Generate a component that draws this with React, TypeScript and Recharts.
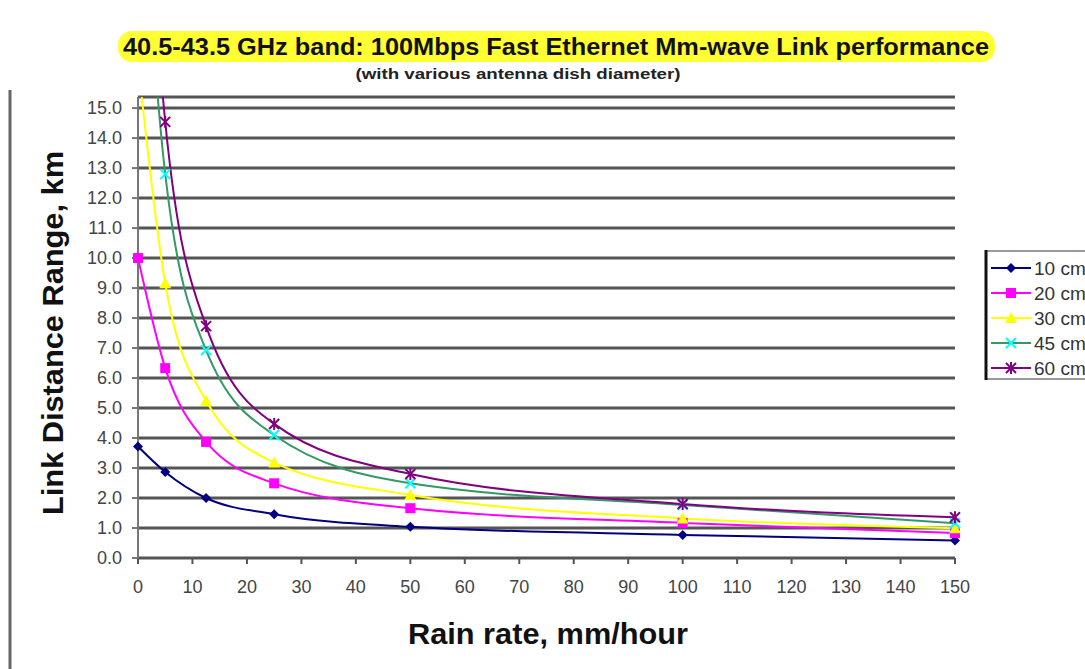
import React from "react";
import { LineChart, Line, XAxis, YAxis, CartesianGrid } from "recharts";

const rainRate = [0, 5, 12.5, 25, 50, 100, 150];
const dish10 = [3.72, 2.87, 2.0, 1.46, 1.04, 0.77, 0.58];
const dish20 = [10.0, 6.33, 3.87, 2.49, 1.66, 1.17, 0.83];
const dish30 = [16.5, 9.16, 5.24, 3.18, 2.1, 1.32, 0.99];
const dish45 = [24, 12.8, 6.93, 4.1, 2.49, 1.77, 1.16];
const dish60 = [28, 14.54, 7.73, 4.47, 2.8, 1.8, 1.36];

const xTicks = [0, 10, 20, 30, 40, 50, 60, 70, 80, 90, 100, 110, 120, 130, 140, 150];
const yTicks = [0, 1, 2, 3, 4, 5, 6, 7, 8, 9, 10, 11, 12, 13, 14, 15];

const TITLE = "40.5-43.5 GHz band: 100Mbps Fast Ethernet Mm-wave Link performance";
const SUBTITLE = "(with various antenna dish diameter)";

const FONT = "'Liberation Sans', Arial, sans-serif";
const Y_MAX = 15.37;

const series = [
  { key: "d10", name: "10 cm", values: dish10, line: "#000080", marker: "#000080", shape: "diamond" },
  { key: "d20", name: "20 cm", values: dish20, line: "#FF00FF", marker: "#FF00FF", shape: "square" },
  { key: "d30", name: "30 cm", values: dish30, line: "#FFFF00", marker: "#FFFF00", shape: "triangle" },
  { key: "d45", name: "45 cm", values: dish45, line: "#339966", marker: "#00FFFF", shape: "x" },
  { key: "d60", name: "60 cm", values: dish60, line: "#800080", marker: "#800080", shape: "star" },
];

const data = rainRate.map((r, i) => {
  const row: any = { rain: r };
  series.forEach((s) => (row[s.key] = s.values[i]));
  return row;
});

function Marker({ shape, color, cx, cy }: { shape: string; color: string; cx: number; cy: number }) {
  if (shape === "diamond")
    return <polygon points={`${cx},${cy - 5} ${cx + 5},${cy} ${cx},${cy + 5} ${cx - 5},${cy}`} fill={color} />;
  if (shape === "square") return <rect x={cx - 5} y={cy - 5} width={10} height={10} fill={color} />;
  if (shape === "triangle")
    return <polygon points={`${cx},${cy - 6} ${cx + 6},${cy + 5} ${cx - 6},${cy + 5}`} fill={color} />;
  if (shape === "x")
    return (
      <g stroke={color} strokeWidth={2}>
        <line x1={cx - 5} y1={cy - 5} x2={cx + 5} y2={cy + 5} />
        <line x1={cx - 5} y1={cy + 5} x2={cx + 5} y2={cy - 5} />
      </g>
    );
  return (
    <g stroke={color} strokeWidth={2}>
      <line x1={cx - 5} y1={cy - 5} x2={cx + 5} y2={cy + 5} />
      <line x1={cx - 5} y1={cy + 5} x2={cx + 5} y2={cy - 5} />
      <line x1={cx} y1={cy - 6} x2={cx} y2={cy + 6} />
    </g>
  );
}

const makeDot = (shape: string, color: string) => (props: any) => {
  const { cx, cy, index } = props;
  if (cx == null || cy == null || cy < 97) return <g key={`e${index}`} />;
  return (
    <g key={`m${index}`}>
      <Marker shape={shape} color={color} cx={cx} cy={cy} />
    </g>
  );
};

export default function App() {
  return (
    <div style={{ position: "absolute", left: 0, top: 0, width: 1085, height: 669, background: "#fff", overflow: "hidden" }}>
      <LineChart width={1085} height={669} data={data} margin={{ top: 97, right: 130, bottom: 81, left: 88 }}>
        <CartesianGrid horizontal vertical={false} stroke="#555" strokeWidth={3} />
        <XAxis
          dataKey="rain"
          type="number"
          domain={[0, 150]}
          ticks={xTicks}
          height={30}
          tickSize={6}
          tickMargin={16}
          stroke="#555"
          strokeWidth={2}
          tick={{ fill: "#444", fontSize: 18, fontFamily: FONT }}
        />
        <YAxis
          type="number"
          domain={[0, Y_MAX]}
          allowDataOverflow
          ticks={yTicks}
          width={50}
          tickSize={6}
          tickMargin={10}
          stroke="#777"
          strokeWidth={2}
          tickFormatter={(v: number) => v.toFixed(1)}
          tick={{ fill: "#444", fontSize: 18, fontFamily: FONT }}
        />
        {series.map((s) => (
          <Line
            key={s.key}
            dataKey={s.key}
            name={s.name}
            type="monotone"
            stroke={s.line}
            strokeWidth={2}
            dot={makeDot(s.shape, s.marker)}
            activeDot={false}
            isAnimationActive={false}
          />
        ))}
      </LineChart>
      <svg
        width={1085}
        height={669}
        style={{ position: "absolute", left: 0, top: 0, pointerEvents: "none" }}
        fontFamily={FONT}
      >
        <line x1={10} y1={90} x2={10} y2={669} stroke="#666" strokeWidth={3} />
        <rect x={118} y={31} width={877} height={31} rx={14} fill="#FFFF33" />
        <text x={556} y={55} textAnchor="middle" fontSize={23} fontWeight="bold" fill="#111" textLength={866} lengthAdjust="spacingAndGlyphs">
          {TITLE}
        </text>
        <text x={518} y={79} textAnchor="middle" fontSize={14} fontWeight="bold" fill="#222" textLength={325} lengthAdjust="spacingAndGlyphs">
          {SUBTITLE}
        </text>
        <text x={548} y={644} textAnchor="middle" fontSize={30} fontWeight="bold" fill="#111" textLength={280} lengthAdjust="spacingAndGlyphs">
          Rain rate, mm/hour
        </text>
        <text x={63} y={333} textAnchor="middle" fontSize={30} fontWeight="bold" fill="#111" transform="rotate(-90 63 333)" textLength={364} lengthAdjust="spacingAndGlyphs">
          Link Distance Range, km
        </text>
        <g>
          <rect x={986} y={251} width={120} height={128} fill="#fff" stroke="#999" strokeWidth={2} />
          <line x1={986} y1={250} x2={986} y2={380} stroke="#111" strokeWidth={3} />
          {series.map((s, i) => {
            const y = 268 + i * 25;
            return (
              <g key={s.key}>
                <line x1={991} y1={y} x2={1031} y2={y} stroke={s.line} strokeWidth={2} />
                <Marker shape={s.shape} color={s.marker} cx={1011} cy={y} />
                <text x={1034} y={y + 7} fontSize={19} fill="#333">
                  {s.name}
                </text>
              </g>
            );
          })}
        </g>
      </svg>
    </div>
  );
}
